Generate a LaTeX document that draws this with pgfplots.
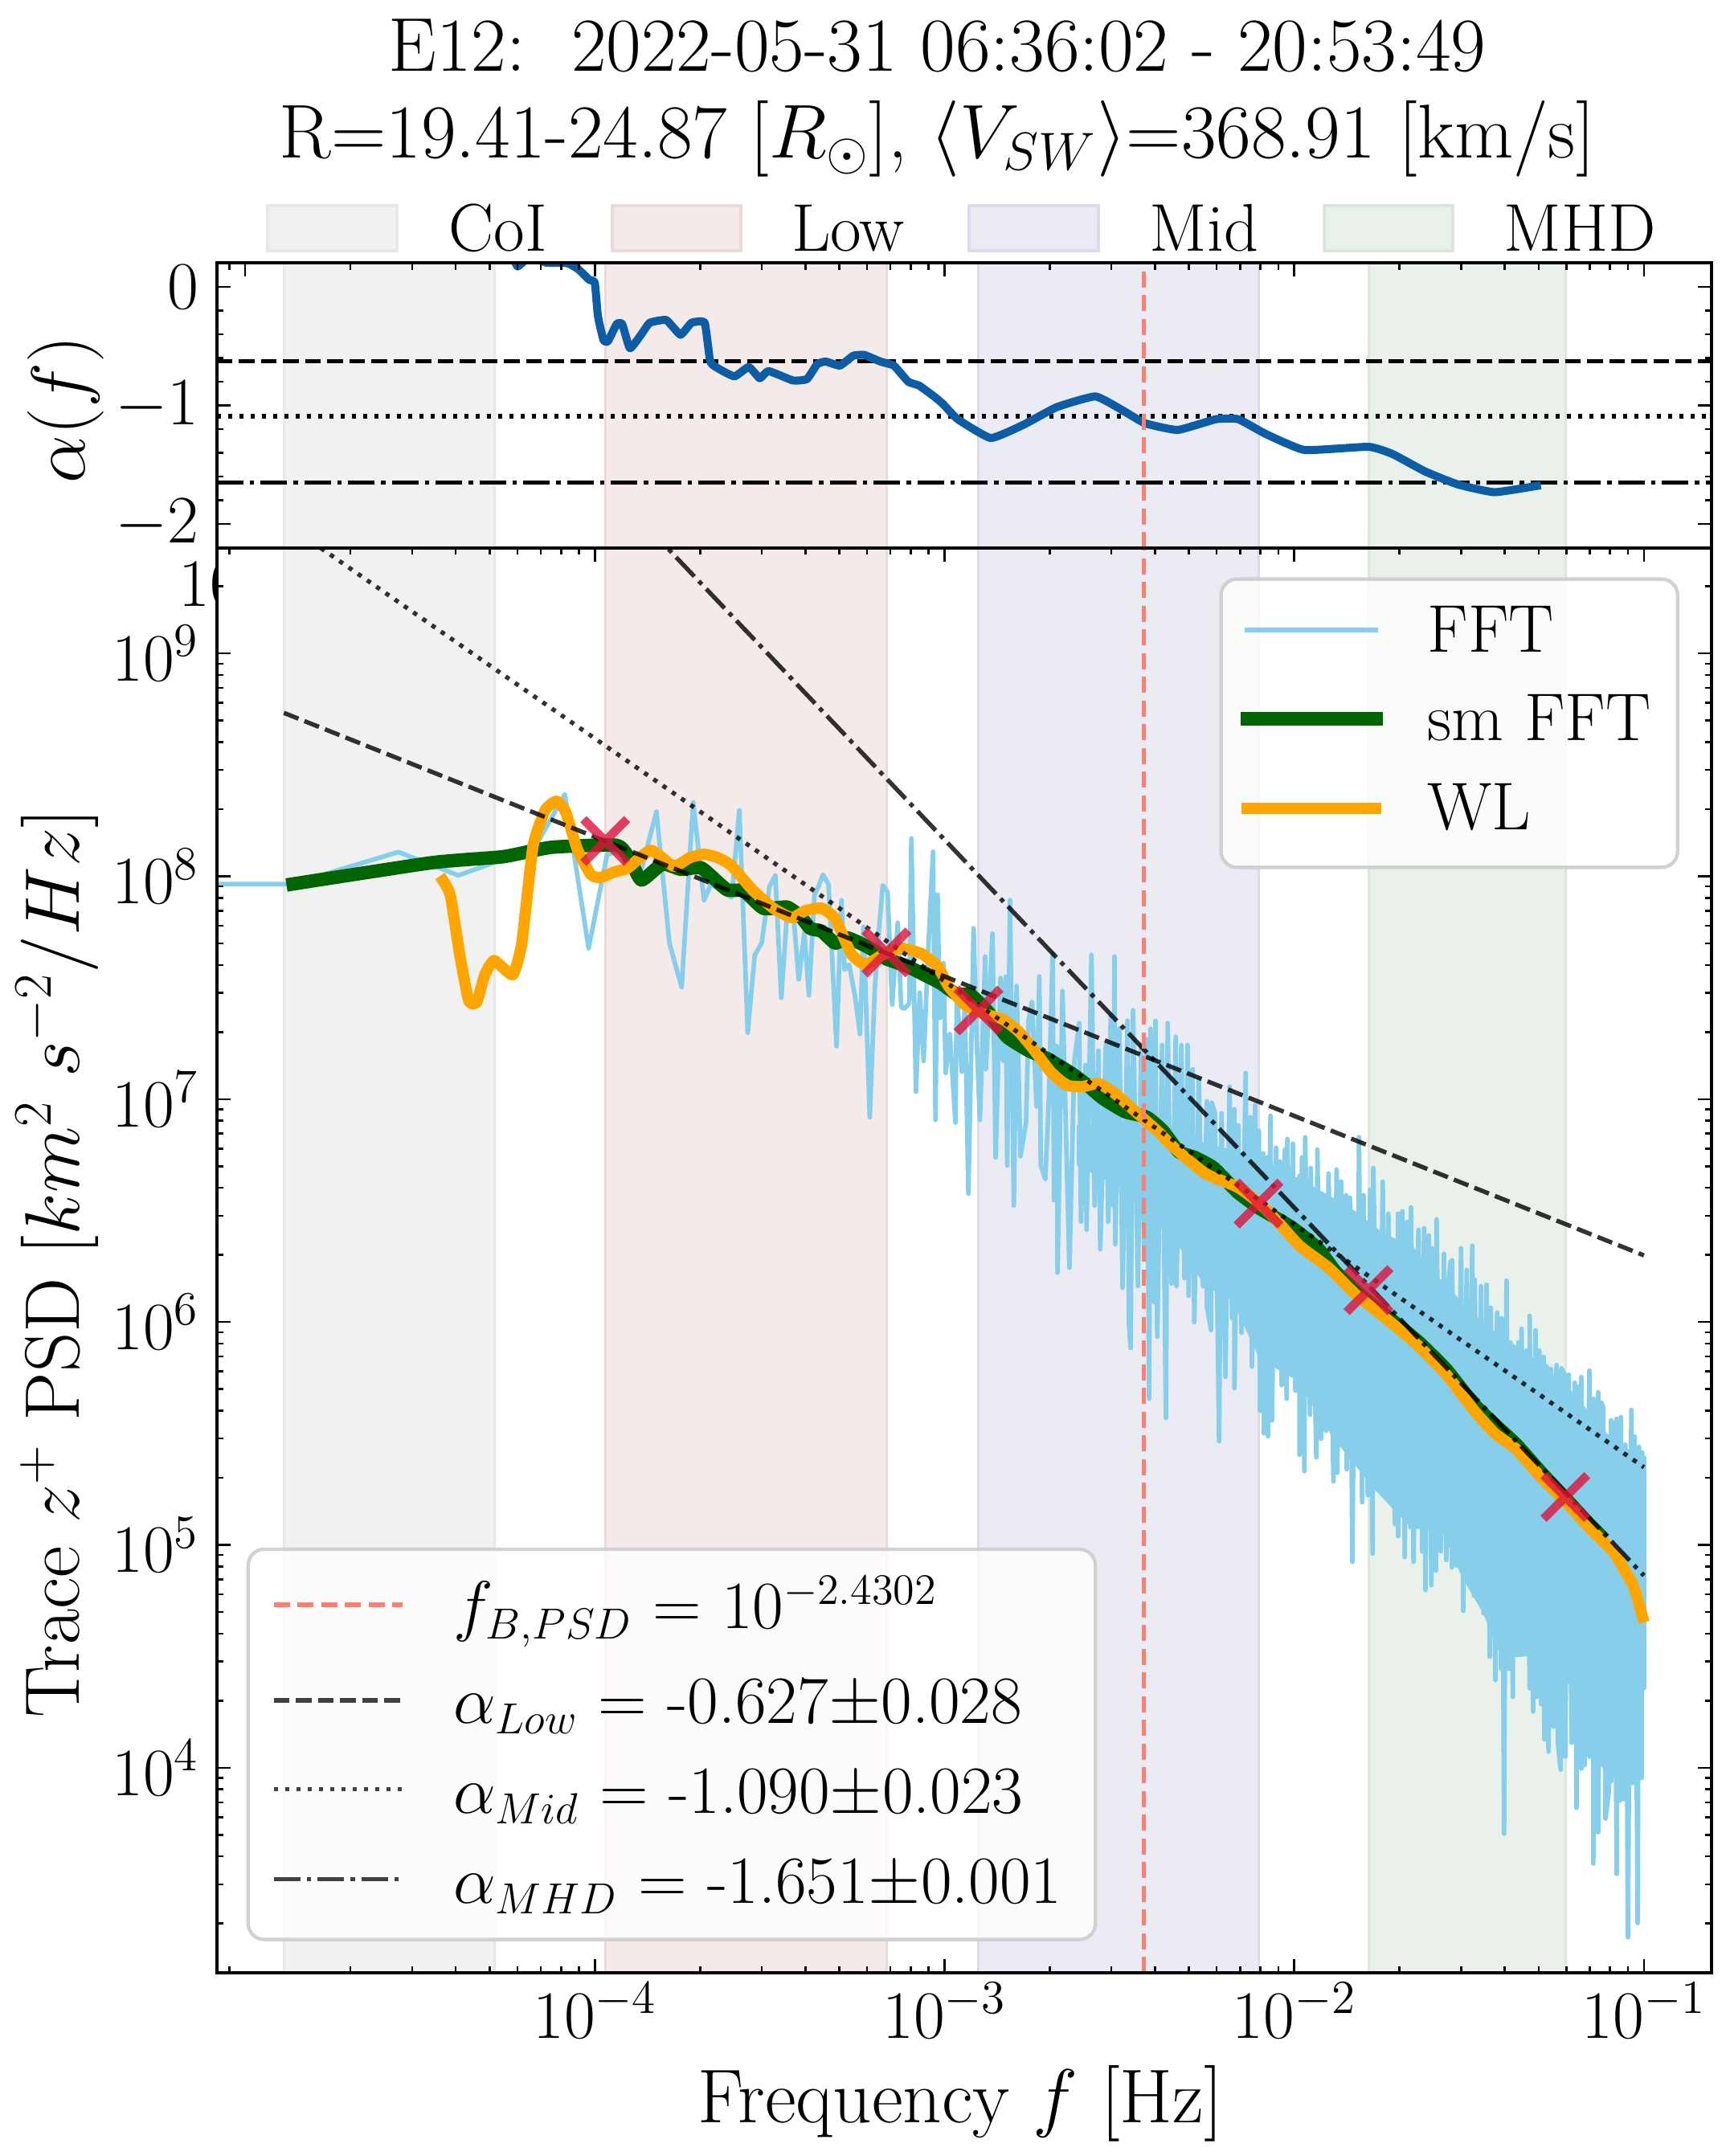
\RequirePackage{fix-cm}
\documentclass[border=0pt]{standalone}
\usepackage{pgfplots}
\usepackage{pgfplotstable}
\pgfplotsset{compat=1.18}
\definecolor{fftc}{HTML}{87CEEB}
\definecolor{smc}{HTML}{006400}
\definecolor{wlc}{HTML}{FFA500}
\definecolor{crim}{HTML}{DC143C}
\definecolor{fbc}{HTML}{FC8072}
\definecolor{alc}{HTML}{0C5DA5}
\definecolor{coif}{HTML}{F1F1F1}\definecolor{coie}{HTML}{E8E8E8}
\definecolor{lowf}{HTML}{F4EAEA}\definecolor{lowe}{HTML}{EBDADA}
\definecolor{midf}{HTML}{EBEBF4}\definecolor{mide}{HTML}{DBDBEC}
\definecolor{mhdf}{HTML}{E9F1EA}\definecolor{mhde}{HTML}{DAE7DB}
\DeclareMathSizes{23.9}{23.9}{15.4}{12}
\newcommand{\tfs}{\fontsize{24}{28}\selectfont}
\newcommand{\gfs}{\fontsize{23.9}{28}\selectfont}
\newcommand{\lfs}{\fontsize{27}{32}\selectfont}
\newcommand{\yfs}{\fontsize{27.4}{32}\selectfont}
\tikzset{
  dsh/.style={dash pattern=on 0.195cm off 0.08cm},
  dtd/.style={dash pattern=on 0.055cm off 0.085cm},
  dsd/.style={dash pattern=on 0.33cm off 0.08cm on 0.055cm off 0.08cm},
  fitln/.style={black, opacity=0.8, line width=0.054cm},
}
\pgfplotsset{
  axis line style={line width=0.032cm},
  tick style={line width=0.026cm, black},
  major tick length=0.17cm, minor tick length=0.085cm,
  tick align=inside, axis on top,
  tick label style={font=\tfs},
  yticklabel style={xshift=-0.1cm},
}
% log10(f) log10(PSD)
\pgfplotstableread[row sep=crcr]{
lf lp\\
-5.2 7.965\\-4.866 7.965\\-4.562 8.109\\-4.390 8.004\\-4.268 8.073\\-4.166 8.145\\-4.086 8.368\\-4.018 7.677\\
-3.965 8.098\\-3.912 8.122\\-3.866 8.037\\-3.824 8.290\\-3.787 7.701\\-3.752 7.502\\-3.719 8.332\\-3.688 7.893\\
-3.668 7.965\\-3.609 7.905\\-3.587 8.296\\-3.563 7.298\\-3.543 7.646\\-3.523 7.701\\-3.501 7.953\\-3.484 8.004\\
-3.467 7.454\\-3.451 7.821\\-3.431 7.803\\-3.417 7.538\\-3.401 7.749\\-3.388 7.466\\-3.372 7.917\\-3.361 7.953\\
-3.348 8.007\\-3.332 7.965\\-3.309 7.238\\-3.295 7.893\\-3.286 7.580\\-3.273 7.604\\-3.256 7.460\\-3.242 7.292\\
-3.232 7.773\\-3.214 6.919\\-3.200 7.484\\-3.187 7.773\\-3.177 7.959\\-3.163 7.929\\-3.150 7.424\\-3.134 7.791\\
-3.124 7.412\\-3.115 7.406\\-3.101 7.430\\-3.095 8.170\\-3.082 7.033\\-3.071 7.478\\-3.060 7.171\\-3.047 7.665\\
-3.033 8.110\\-3.026 6.907\\-3.020 7.917\\-3.014 7.364\\-3.003 7.610\\-2.997 7.117\\-2.985 7.292\\-2.969 6.895\\
-2.965 7.484\\-2.951 7.123\\-2.942 7.424\\-2.932 6.576\\-2.917 7.767\\-2.909 7.292\\-2.899 6.907\\-2.884 7.640\\
-2.882 7.135\\-2.863 7.743\\-2.854 6.738\\-2.840 7.544\\-2.832 7.171\\-2.825 7.550\\-2.821 6.702\\-2.813 7.893\\
-2.802 6.522\\-2.794 7.508\\-2.783 6.744\\-2.767 6.895\\-2.760 7.352\\-2.750 7.436\\-2.737 6.967\\-2.729 7.550\\
-2.725 6.702\\-2.712 6.642\\-2.702 6.991\\-2.691 7.653\\-2.687 6.546\\-2.679 7.238\\
-2.677 6.222\\-2.663 7.485\\-2.643 6.244\\-2.629 7.171\\-2.615 7.341\\-2.610 6.450\\-2.597 7.153\\-2.594 6.414\\
-2.580 7.648\\-2.571 6.522\\-2.560 7.218\\-2.555 6.327\\-2.539 7.243\\-2.532 6.450\\-2.525 7.377\\-2.518 6.522\\
-2.514 7.640\\-2.512 6.349\\-2.500 7.316\\-2.491 6.154\\-2.477 7.352\\-2.473 5.995\\-2.468 5.883\\-2.461 7.399\\
-2.447 6.161\\-2.438 7.243\\-2.429 6.305\\-2.422 7.269\\-2.415 5.656\\-2.411 7.316\\-2.401 6.089\\-2.397 7.352\\
-2.392 5.934\\-2.378 7.243\\-2.367 5.570\\-2.362 7.341\\-2.351 6.172\\-2.339 7.280\\-2.337 6.161\\-2.323 7.243\\
-2.314 6.197\\-2.305 7.243\\-2.302 6.118\\-2.291 7.135\\-2.286 5.999\\-2.273 7.092\\-2.261 6.161\\-2.250 6.991\\
-2.250 6.071\\-2.238 5.963\\-2.236 6.984\\-2.227 6.937\\-2.215 5.465\\-2.208 6.937\\-2.197 5.754\\-2.185 7.056\\
-2.178 6.017\\-2.171 6.955\\-2.171 5.703\\-2.160 6.883\\-2.151 5.952\\-2.139 7.117\\-2.135 6.017\\-2.126 6.919\\
-2.121 5.800\\-2.112 6.973\\-2.105 5.945\\-2.101 6.858\\-2.098 5.602\\-2.089 6.757\\-2.087 5.501\\-2.077 6.739\\
-2.075 5.487\\-2.068 6.926\\-2.064 5.558\\-2.052 6.782\\-2.048 5.800\\-2.041 6.720\\-2.036 5.717\\-2.027 6.774\\
-2.022 5.656\\-2.020 6.821\\-2.008 5.789\\-2.004 6.800\\-1.997 5.692\\-1.985 6.656\\-1.985 5.404\\-1.978 6.739\\
-1.971 5.331\\-1.969 6.829\\-1.955 5.584\\-1.953 6.691\\-1.937 5.393\\-1.934 6.774\\-1.923 5.476\\-1.918 6.540\\
-1.909 5.512\\-1.902 6.666\\-1.888 5.285\\-1.879 6.684\\-1.877 5.324\\-1.866 6.630\\-1.859 5.440\\-1.852 6.569\\
-1.850 5.339\\-1.841 6.558\\-1.834 4.924\\-1.825 6.486\\-1.818 5.367\\-1.815 6.829\\-1.806 5.191\\-1.802 6.569\\
-1.790 5.223\\-1.783 6.594\\-1.776 4.960\\-1.774 6.691\\-1.758 5.245\\-1.747 6.630\\-1.740 5.212\\-1.731 6.486\\
-1.712 5.093\\-1.703 6.486\\-1.703 5.039\\-1.691 6.497\\-1.684 4.945\\-1.677 6.450\\-1.668 5.079\\-1.666 6.515\\
-1.659 4.924\\-1.645 6.414\\-1.634 4.971\\-1.629 6.421\\-1.625 4.797\\-1.615 6.388\\-1.608 4.819\\-1.606 6.331\\
-1.595 4.884\\-1.593 6.461\\-1.581 4.971\\-1.572 6.306\\-1.565 4.931\\-1.565 6.082\\-1.553 6.270\\-1.549 4.899\\
-1.549 6.277\\-1.535 4.906\\-1.523 6.331\\-1.517 4.704\\-1.507 6.233\\-1.500 4.862\\-1.491 6.342\\-1.486 4.772\\
-1.484 6.190\\-1.473 4.826\\-1.466 6.161\\-1.459 4.693\\-1.450 6.168\\-1.441 4.498\\-1.438 6.064\\-1.425 4.393\\
-1.420 6.042\\-1.409 4.444\\-1.407 6.017\\-1.400 3.704\\-1.393 6.186\\-1.386 4.444\\-1.382 5.909\\-1.375 4.318\\
-1.375 5.862\\-1.363 4.574\\-1.359 5.909\\-1.356 4.664\\-1.350 5.970\\-1.340 4.552\\-1.336 5.873\\-1.327 4.357\\
-1.327 6.028\\-1.317 4.252\\-1.310 5.963\\-1.306 4.318\\-1.299 5.873\\-1.294 4.285\\-1.287 5.844\\-1.285 4.127\\
-1.278 5.800\\-1.273 4.072\\-1.266 5.789\\-1.259 4.184\\-1.250 5.807\\-1.246 4.105\\-1.238 3.992\\-1.236 5.793\\
-1.227 5.764\\-1.225 4.050\\-1.215 5.764\\-1.207 4.112\\-1.198 5.728\\-1.193 3.820\\-1.189 5.710\\-1.179 3.996\\
-1.179 5.753\\-1.170 4.011\\-1.156 5.782\\-1.156 4.050\\-1.145 5.656\\-1.145 3.570\\-1.131 5.685\\-1.131 3.711\\
-1.122 5.638\\-1.117 5.620\\-1.110 3.772\\-1.101 3.888\\-1.094 5.559\\-1.094 3.938\\-1.087 5.548\\-1.078 3.524\\
-1.078 5.566\\-1.069 3.852\\-1.066 5.573\\-1.060 3.859\\-1.053 5.450\\-1.046 3.239\\-1.036 5.606\\-1.032 3.931\\
-1.027 5.487\\-1.018 3.303\\-1.014 5.440\\-1.007 3.954\\-1.005 5.414\\-1.000 4.357\\-1.000 5.400\\
}\fftdata
% solid core of the FFT band: upper edge, then lower edge backwards
\pgfplotstableread[row sep=crcr]{
lf lp\\
-2.622 6.883\\-2.415 6.915\\-2.254 6.803\\-2.116 6.749\\-1.979 6.637\\-1.841 6.515\\-1.749 6.403\\-1.657 6.331\\
-1.565 6.161\\-1.450 5.981\\-1.336 5.862\\-1.221 5.717\\-1.106 5.501\\-1.000 5.378\\
-1.000 3.953\\-1.099 3.957\\-1.152 4.069\\-1.214 4.379\\-1.285 4.379\\-1.327 4.501\\-1.407 4.491\\-1.460 4.693\\
-1.519 4.851\\-1.581 5.072\\-1.664 5.072\\-1.768 5.245\\-1.887 5.476\\-1.995 5.739\\-2.100 5.836\\-2.178 6.100\\
-2.254 6.161\\-2.307 6.280\\-2.392 6.501\\-2.484 6.594\\-2.622 6.702\\
}\fftcore
\pgfplotstableread[row sep=crcr]{
lf lp\\
-4.882 7.961\\-4.466 8.061\\-4.262 8.088\\-4.124 8.130\\-3.938 8.139\\-3.899 8.073\\-3.867 7.983\\-3.807 8.055\\
-3.754 8.031\\-3.695 8.037\\-3.623 7.940\\-3.575 7.935\\-3.518 7.856\\-3.451 7.862\\-3.412 7.820\\-3.384 7.766\\
-3.352 7.754\\-3.313 7.700\\-3.279 7.724\\-3.226 7.688\\-3.173 7.640\\-3.168 7.630\\-3.104 7.594\\-3.058 7.558\\
-3.012 7.521\\-2.966 7.471\\-2.925 7.467\\-2.874 7.388\\-2.822 7.280\\-2.760 7.218\\-2.707 7.182\\-2.638 7.117\\
-2.592 7.063\\-2.546 7.002\\-2.484 6.944\\-2.422 6.919\\-2.376 6.858\\-2.330 6.764\\-2.284 6.738\\-2.231 6.692\\
-2.162 6.583\\-2.100 6.511\\-2.008 6.425\\-1.933 6.331\\-1.880 6.222\\-1.795 6.100\\-1.719 6.006\\-1.641 5.905\\
-1.565 5.786\\-1.489 5.635\\-1.420 5.530\\-1.365 5.450\\-1.296 5.328\\-1.220 5.201\\-1.159 5.097\\-1.113 5.025\\
}\smdata
\pgfplotstableread[row sep=crcr]{
lf lp\\
-4.443 8.001\\-4.414 7.918\\-4.387 7.652\\-4.361 7.442\\-4.338 7.435\\-4.315 7.558\\-4.288 7.622\\-4.235 7.558\\
-4.209 7.702\\-4.177 8.135\\-4.142 8.297\\-4.110 8.337\\-4.084 8.290\\-4.050 8.120\\-4.012 8.008\\-3.985 7.994\\
-3.945 8.019\\-3.906 8.037\\-3.840 8.117\\-3.775 8.045\\-3.728 8.084\\-3.688 8.099\\-3.649 8.084\\-3.610 8.048\\
-3.550 7.940\\-3.490 7.857\\-3.437 7.814\\-3.398 7.846\\-3.352 7.857\\-3.313 7.810\\-3.267 7.652\\-3.226 7.604\\
-3.173 7.652\\-3.120 7.677\\-3.065 7.652\\-3.019 7.594\\-2.989 7.507\\-2.943 7.424\\-2.897 7.388\\-2.835 7.359\\
-2.789 7.305\\-2.743 7.218\\-2.698 7.125\\-2.652 7.063\\-2.606 7.056\\-2.560 7.070\\-2.514 7.027\\-2.454 6.944\\
-2.392 6.858\\-2.346 6.785\\-2.254 6.666\\-2.162 6.605\\-2.100 6.533\\-2.047 6.450\\-1.985 6.342\\-1.902 6.244\\
-1.825 6.125\\-1.719 5.992\\-1.641 5.887\\-1.565 5.764\\-1.489 5.609\\-1.427 5.501\\-1.365 5.429\\-1.296 5.306\\
-1.220 5.187\\-1.158 5.079\\-1.089 4.971\\-1.060 4.898\\-1.030 4.815\\-1.000 4.653\\
}\wldata
\begin{document}
\begin{tikzpicture}
\useasboundingbox (0,0) rectangle (21.48cm,-26.83cm);
% lower panel
\begin{axis}[scale only axis, xmode=log, ymode=log, name=bot, anchor=north west, at={(2.70cm,-6.82cm)},
  width=18.6cm, height=17.73cm,
  xmin=8.3e-6, xmax=0.156, ymin=1202, ymax=2.97e9,
  xtick={1e-4,1e-3,1e-2,1e-1},
  ytick={1e4,1e5,1e6,1e7,1e8,1e9},
  minor xtick={9e-6,2e-5,3e-5,4e-5,5e-5,6e-5,7e-5,8e-5,9e-5,2e-4,3e-4,4e-4,5e-4,6e-4,7e-4,8e-4,9e-4,2e-3,3e-3,4e-3,5e-3,6e-3,7e-3,8e-3,9e-3,2e-2,3e-2,4e-2,5e-2,6e-2,7e-2,8e-2,9e-2},
  minor ytick={2e3,3e3,4e3,5e3,6e3,7e3,8e3,9e3,2e4,3e4,4e4,5e4,6e4,7e4,8e4,9e4,2e5,3e5,4e5,5e5,6e5,7e5,8e5,9e5,2e6,3e6,4e6,5e6,6e6,7e6,8e6,9e6,2e7,3e7,4e7,5e7,6e7,7e7,8e7,9e7,2e8,3e8,4e8,5e8,6e8,7e8,8e8,9e8,2e9},
  xtick pos=both, ytick pos=both,
]
\addplot[fill=coif, draw=coie, line width=0.03cm] coordinates {(1.29e-5,1) (5.16e-5,1) (5.16e-5,1e11) (1.29e-5,1e11)} -- cycle;
\addplot[fill=lowf, draw=lowe, line width=0.03cm] coordinates {(1.07e-4,1) (6.82e-4,1) (6.82e-4,1e11) (1.07e-4,1e11)} -- cycle;
\addplot[fill=midf, draw=mide, line width=0.03cm] coordinates {(1.25e-3,1) (7.9e-3,1) (7.9e-3,1e11) (1.25e-3,1e11)} -- cycle;
\addplot[fill=mhdf, draw=mhde, line width=0.03cm] coordinates {(1.63e-2,1) (5.96e-2,1) (5.96e-2,1e11) (1.63e-2,1e11)} -- cycle;
\addplot[fill=fftc, draw=none] table[x expr=10^\thisrow{lf}, y expr=10^\thisrow{lp}] {\fftcore} -- cycle;
\addplot[fftc, line width=0.057cm, line join=round] table[x expr=10^\thisrow{lf}, y expr=10^\thisrow{lp}] {\fftdata};
\addplot[smc, line width=0.167cm, line join=round, smooth, tension=0.3] table[x expr=10^\thisrow{lf}, y expr=10^\thisrow{lp}] {\smdata};
\addplot[wlc, line width=0.14cm, line join=round, smooth, tension=0.3] table[x expr=10^\thisrow{lf}, y expr=10^\thisrow{lp}] {\wldata};
\addplot[fitln, dsh] coordinates {(1.29e-5,5.41e8) (0.1,1.99e6)};
\addplot[fitln, dtd] coordinates {(1.29e-5,3.87e9) (0.1,2.23e5)};
\addplot[fitln, dsd] coordinates {(1.29e-5,1.92e11) (0.1,7.28e4)};
\addplot[only marks, mark=x, mark size=0.385cm, mark options={draw=crim, line width=0.108cm, opacity=0.8}]
  coordinates {(1.07e-4,1.44e8) (6.82e-4,4.55e7) (1.25e-3,2.5e7) (7.9e-3,3.4e6) (1.63e-2,1.39e6) (5.96e-2,1.64e5)};
\addplot[fbc, line width=0.055cm, dash pattern=on 0.2cm off 0.095cm] coordinates {(3.714e-3,1202) (3.714e-3,2.97e9)};
\end{axis}
% upper panel
\begin{axis}[scale only axis, xmode=log, name=top, anchor=south west, at={(2.70cm,-6.82cm)},
  width=18.6cm, height=3.55cm,
  xmin=8.3e-6, xmax=0.156, ymin=-2.203, ymax=0.203,
  xtick={1e-5,1e-4,1e-3,1e-2,1e-1},
  minor xtick={9e-6,2e-5,3e-5,4e-5,5e-5,6e-5,7e-5,8e-5,9e-5,2e-4,3e-4,4e-4,5e-4,6e-4,7e-4,8e-4,9e-4,2e-3,3e-3,4e-3,5e-3,6e-3,7e-3,8e-3,9e-3,2e-2,3e-2,4e-2,5e-2,6e-2,7e-2,8e-2,9e-2},
  ytick={-2,-1,0}, minor y tick num=4,
  xticklabels={}, xtick pos=upper, ytick pos=both,
]
\addplot[fill=coif, draw=coie, line width=0.03cm] coordinates {(1.29e-5,-5) (5.16e-5,-5) (5.16e-5,5) (1.29e-5,5)} -- cycle;
\addplot[fill=lowf, draw=lowe, line width=0.03cm] coordinates {(1.07e-4,-5) (6.82e-4,-5) (6.82e-4,5) (1.07e-4,5)} -- cycle;
\addplot[fill=midf, draw=mide, line width=0.03cm] coordinates {(1.25e-3,-5) (7.9e-3,-5) (7.9e-3,5) (1.25e-3,5)} -- cycle;
\addplot[fill=mhdf, draw=mhde, line width=0.03cm] coordinates {(1.63e-2,-5) (5.96e-2,-5) (5.96e-2,5) (1.63e-2,5)} -- cycle;
\addplot[black, line width=0.057cm, dsh] coordinates {(8.3e-6,-0.627) (0.156,-0.627)};
\addplot[black, line width=0.057cm, dtd] coordinates {(8.3e-6,-1.09) (0.156,-1.09)};
\addplot[black, line width=0.057cm, dsd] coordinates {(8.3e-6,-1.651) (0.156,-1.651)};
\addplot[alc, line width=0.1cm, line join=round, smooth, tension=0.25] coordinates {
(5.80e-5,0.27) (6.01e-5,0.172) (6.47e-5,0.25) (7.0e-5,0.25) (7.21e-5,0.205) (8.33e-5,0.2) (8.96e-5,0.149) (9.63e-5,0.06) (9.99e-5,0.036)
(1.02e-4,-0.246) (1.058e-4,-0.45) (1.089e-4,-0.461) (1.154e-4,-0.314) (1.197e-4,-0.314) (1.259e-4,-0.518) (1.354e-4,-0.405) (1.435e-4,-0.303)
(1.6e-4,-0.280) (1.757e-4,-0.404) (1.889e-4,-0.303) (2.06e-4,-0.303) (2.137e-4,-0.630) (2.248e-4,-0.687) (2.506e-4,-0.755) (2.754e-4,-0.676)
(2.961e-4,-0.771) (3.137e-4,-0.710) (3.68e-4,-0.789) (4.04e-4,-0.778) (4.32e-4,-0.653) (4.57e-4,-0.630) (5.02e-4,-0.664) (5.48e-4,-0.581)
(5.89e-4,-0.574) (6.57e-4,-0.631) (7.17e-4,-0.666) (7.87e-4,-0.800) (8.47e-4,-0.834) (9.44e-4,-0.936) (9.93e-4,-0.993) (1.09e-3,-1.116)
(1.355e-3,-1.275) (1.684e-3,-1.162) (2.09e-3,-1.015) (2.70e-3,-0.924) (3.23e-3,-1.042) (3.74e-3,-1.150) (4.64e-3,-1.207) (5.98e-3,-1.116)
(6.91e-3,-1.116) (8.29e-3,-1.241) (1.07e-2,-1.376) (1.63e-2,-1.349) (1.91e-2,-1.410) (2.37e-2,-1.558) (2.94e-2,-1.667) (3.74e-2,-1.732) (5.07e-2,-1.673)};
\addplot[fbc, line width=0.055cm, dash pattern=on 0.2cm off 0.095cm] coordinates {(3.714e-3,-2.203) (3.714e-3,0.203)};
\end{axis}
% everything below is placed in picture pixels, y downwards
\begin{scope}[x=0.01cm, y=-0.01cm]
\node[font=\lfs, anchor=base] at (1167,89) {E12:\ \ 2022-05-31 06:36:02 - 20:53:49};
\node[font=\lfs, anchor=base] at (1167,197) {R=19.41-24.87 [$R_\odot$], $\langle V_{SW}\rangle$=368.91 [km/s]};
\node[font=\lfs, anchor=base] at (1196,2643) {Frequency\ $f$\ [Hz]};
\node[font=\lfs, rotate=90, anchor=base] at (106,510) {$\alpha(f)$};
\node[font=\yfs, rotate=90, anchor=base] at (99,1573) {Trace $z^{+}$ PSD $[km^{2}\ s^{-2}/Hz]$};
% clipped label at the top of the lower panel
\begin{scope}
\clip (150,690) rectangle (269,790);
\node[font=\tfs, anchor=base west, inner sep=0pt] at (222,755) {10};
\end{scope}
% legend above the panels
\foreach \xa/\xb/\fc/\ec in {333/494/coif/coie, 762/923/lowf/lowe, 1207/1368/midf/mide, 1649/1809/mhdf/mhde}
  \draw[fill=\fc, draw=\ec, line width=0.04cm] (\xa,256) rectangle (\xb,312);
\foreach \xt/\tx in {558/CoI, 985/Low, 1431/Mid, 1872/MHD}
  \node[font=\gfs, anchor=base west, inner sep=0pt] at (\xt,313) {\tx};
% legend of the spectra
\draw[rounded corners=0.2cm, fill=white, fill opacity=0.8, draw=black!18, line width=0.043cm] (1520.5,721) rectangle (2089,1080);
\draw[fftc, line width=0.06cm] (1550,784) -- (1716,784);
\draw[smc, line width=0.167cm] (1545,895) -- (1722,895);
\draw[wlc, line width=0.14cm] (1546,1007) -- (1720,1007);
\node[font=\gfs, anchor=base west, inner sep=0pt] at (1777,812) {FFT};
\node[font=\gfs, anchor=base west, inner sep=0pt] at (1777,922) {sm FFT};
\node[font=\gfs, anchor=base west, inner sep=0pt] at (1777,1033) {WL};
% legend of the fits
\draw[rounded corners=0.2cm, fill=white, fill opacity=0.8, draw=black!18, line width=0.043cm] (309,1929) rectangle (1364,2415);
\draw[fbc, line width=0.054cm, dash pattern=on 0.2cm off 0.095cm] (341,1998) -- (501,1998);
\draw[black!75, line width=0.054cm, dsh] (341,2117) -- (501,2117);
\draw[black!75, line width=0.054cm, dtd] (341,2228) -- (501,2228);
\draw[black!75, line width=0.054cm, dsd] (341,2340) -- (501,2340);
\node[font=\gfs, anchor=base west, inner sep=0pt] at (564,2028) {$f_{B,PSD}$ = $10^{-2.4302}$};
\node[font=\gfs, anchor=base west, inner sep=0pt] at (564,2146) {$\alpha_{Low}$ = -0.627$\pm$0.028};
\node[font=\gfs, anchor=base west, inner sep=0pt] at (564,2258) {$\alpha_{Mid}$ = -1.090$\pm$0.023};
\node[font=\gfs, anchor=base west, inner sep=0pt] at (564,2370) {$\alpha_{MHD}$ = -1.651$\pm$0.001};
\end{scope}
\end{tikzpicture}
\end{document}
